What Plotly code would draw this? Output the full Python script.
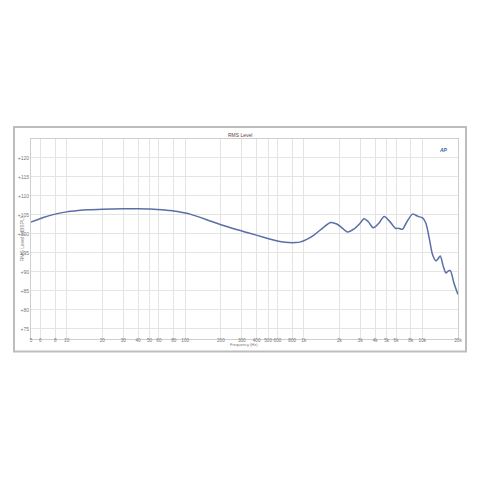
import plotly.graph_objects as go

freq_hz = [5, 6.35, 8, 10, 12.5, 15, 20, 30, 40, 50, 58, 75, 100, 110, 150, 200, 280, 356, 450,
           525, 650, 750, 850, 941, 1050, 1219, 1450, 1687, 1900, 2100, 2335, 2656, 2950,
           3226, 3500, 3873, 4300, 4764, 5300, 5986, 6300, 6800, 7300, 8274, 9200, 10050,
           10715, 11500, 12210, 13030, 13600, 14170, 15000, 15830, 16500, 17210, 18500, 20000]
level_db = [103.1, 104.3, 105.2, 105.8, 106.15, 106.35, 106.5, 106.6, 106.6, 106.55, 106.45, 106.15,
            105.5, 105.2, 103.8, 102.4, 101.0, 100.1, 99.2, 98.6, 97.9, 97.7, 97.7, 97.9,
            98.5, 99.7, 101.6, 103.0, 102.6, 101.6, 100.5, 101.3, 102.6, 104.0, 103.2,
            101.6, 102.8, 104.6, 103.3, 101.4, 101.5, 101.2, 102.8, 105.2, 104.6, 104.2,
            102.8, 98.5, 94.5, 92.9, 93.5, 94.2, 91.5, 89.7, 90.2, 90.3, 87.0, 84.0]

x_tickvals = [5, 6, 8, 10, 20, 30, 40, 50, 60, 80, 100, 200, 300, 400, 500, 600, 800,
              1000, 2000, 3000, 4000, 5000, 6000, 8000, 10000, 20000]
x_ticktext = ["5", "6", "8", "10", "20", "30", "40", "50", "60", "80", "100", "200", "300",
              "400", "500", "600", "800", "1k", "2k", "3k", "4k", "5k", "6k", "8k", "10k", "20k"]
y_tickvals = [75, 80, 85, 90, 95, 100, 105, 110, 115, 120]
y_ticktext = ["+75", "+80", "+85", "+90", "+95", "+100", "+105", "+110", "+115", "+120"]

fig = go.Figure()
fig.add_trace(go.Scatter(
    x=freq_hz, y=level_db, mode="lines",
    line=dict(color="#5b6ea8", width=1.5, shape="spline", smoothing=0.8),
    showlegend=False, hoverinfo="skip"))

L, R, T, B = 31, 22, 139, 140.5
pw, ph = 480 - L - R, 480 - T - B

def px(x):
    return (x - L) / pw

def py(y):
    return (480 - B - y) / ph

fig.update_layout(
    width=480, height=480,
    margin=dict(l=L, r=R, t=T, b=B),
    paper_bgcolor="white", plot_bgcolor="white",
    font=dict(family="Liberation Sans, Arial, sans-serif", size=5, color="#777777"),
    xaxis=dict(type="log", range=[0.69897, 4.30103], tickvals=x_tickvals, ticktext=x_ticktext,
               showgrid=True, gridcolor="#e4e4e4", gridwidth=1, zeroline=False,
               showline=True, linecolor="#cfcfcf", linewidth=1, mirror=True,
               ticks="", tickangle=0, ticklabelstandoff=-4,
               tickfont=dict(size=4.7, color="#777777")),
    yaxis=dict(range=[72.3, 125], tickvals=y_tickvals, ticktext=y_ticktext,
               showgrid=True, gridcolor="#e4e4e4", gridwidth=1, zeroline=False,
               showline=True, linecolor="#cfcfcf", linewidth=1, mirror=True,
               ticks="", tickfont=dict(size=5, color="#777777")),
    shapes=[dict(type="rect", xref="paper", yref="paper",
                 x0=px(14), x1=px(466), y0=py(352), y1=py(127),
                 line=dict(color="#bdbdbd", width=2), fillcolor="rgba(0,0,0,0)", layer="below")],
    annotations=[
        dict(text="RMS Level", xref="paper", yref="paper", x=px(240), y=py(130),
             showarrow=False, font=dict(size=5, color="#6a4040")),
        dict(text="RMS Level (dBSPL)", xref="paper", yref="paper", x=px(16.5), y=py(239),
             showarrow=False, textangle=-90, font=dict(size=5, color="#777777")),
        dict(text="Frequency (Hz)", xref="paper", yref="paper", x=px(244), y=py(349.3),
             showarrow=False, font=dict(size=4, color="#777777")),
        dict(text="<b><i>AP</i></b>", xref="paper", yref="paper", x=px(450), y=py(145.5),
             showarrow=False, font=dict(size=5, color="#3a5fb0")),
    ],
)

fig.write_html("out.html", config={"displayModeBar": False},
               post_script="document.body.style.margin='0';document.body.style.overflow='hidden';")
